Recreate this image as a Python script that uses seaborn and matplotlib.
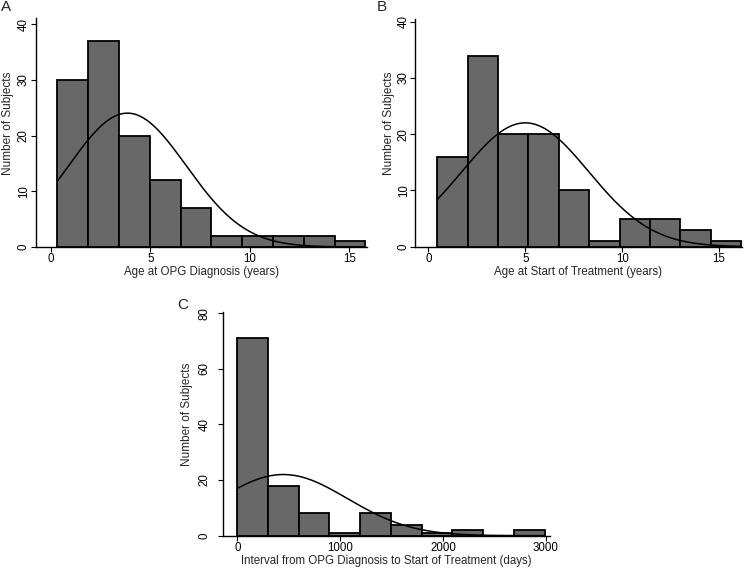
import numpy as np
import pandas as pd
import matplotlib
matplotlib.use("Agg")
import matplotlib.pyplot as plt
import seaborn as sns

# ---- data ----
# Panel A: Age at OPG Diagnosis (years)
a_start, a_width = 0.32, 1.55
a_counts = [30, 37, 20, 12, 7, 2, 2, 2, 2, 1]
a_mean, a_sd = 3.85, 2.96

# Panel B: Age at Start of Treatment (years)
b_start, b_width = 0.45, 1.57
b_counts = [16, 34, 20, 20, 10, 1, 5, 5, 3, 1]
b_mean, b_sd = 5.0, 3.27

# Panel C: Interval from OPG Diagnosis to Start of Treatment (days)
c_start, c_width = 0.0, 299.0
c_counts = [71, 18, 8, 1, 8, 4, 1, 2, 0, 2]
c_mean, c_sd = 448.0, 624.0

a_xticks = [0, 5, 10, 15]
a_yticks = [0, 10, 20, 30, 40]
b_xticks = [0, 5, 10, 15]
b_yticks = [0, 10, 20, 30, 40]
c_xticks = [0, 1000, 2000, 3000]
c_yticks = [0, 20, 40, 60, 80]

sns.set_style("white")
plt.rcParams['font.family'] = ['Liberation Sans', 'DejaVu Sans']

fig = plt.figure(figsize=(7.47, 5.70), dpi=100)

def panel(rect, start, width, counts, mean, sd, xlim, ylim, xticks, yticks, xlabel,
          letter, letter_xy, ypad, ylabel_x):
    ax = fig.add_axes(rect)
    counts = [float(c) for c in counts]
    n = len(counts)
    centers = [start + width * (i + 0.5) for i in range(n)]
    df = pd.DataFrame({"x": centers, "w": counts})
    sns.histplot(data=df, x="x", weights="w", binwidth=width,
                 binrange=(start, start + n * width), ax=ax,
                 color="#686868", edgecolor="black", linewidth=1.3, alpha=1.0)
    total = sum(counts)
    xs = np.linspace(start, start + n * width, 300)
    ys = total * width / (sd * np.sqrt(2 * np.pi)) * np.exp(-(xs - mean) ** 2 / (2 * sd ** 2))
    ax.plot(xs, ys, color="black", linewidth=1.1)
    ax.set_xlim(*xlim)
    ax.set_ylim(*ylim)
    ax.set_xticks(xticks)
    ax.set_yticks(yticks)
    ax.set_xlabel(xlabel, fontsize=8.3, labelpad=0.5)
    ax.set_ylabel("Number of Subjects", fontsize=8.5)
    ax.yaxis.set_label_coords(ylabel_x, 0.54)
    for s in ("top", "right"):
        ax.spines[s].set_visible(False)
    for s in ("left", "bottom"):
        ax.spines[s].set_color("black")
        ax.spines[s].set_linewidth(1.0)
    ax.tick_params(axis="both", direction="out", length=3.5, width=0.8, colors="black",
                   labelsize=8.3, pad=1.0, left=True, bottom=True)
    ax.tick_params(axis="y", pad=ypad)
    for lab in ax.get_yticklabels():
        lab.set_rotation(90)
        lab.set_va("center")
    fig.text(letter_xy[0], letter_xy[1], letter, fontsize=11, ha="left", va="top")
    return ax

panel([0.0482, 0.5667, 0.4431, 0.4017], a_start, a_width, a_counts, a_mean, a_sd,
      (-0.75, 15.9), (0, 41.1), a_xticks, a_yticks,
      "Age at OPG Diagnosis (years)", "A", (0.001, 1.0), 1.0, -0.066)
panel([0.5556, 0.5672, 0.4373, 0.3995], b_start, b_width, b_counts, b_mean, b_sd,
      (-0.69, 16.17), (0, 40.5), b_xticks, b_yticks,
      "Age at Start of Treatment (years)", "B", (0.505, 1.0), 0.3, -0.061)
panel([0.2985, 0.0602, 0.4378, 0.3930], c_start, c_width, c_counts, c_mean, c_sd,
      (-139, 3042), (0, 80.5), c_xticks, c_yticks,
      "Interval from OPG Diagnosis to Start of Treatment (days)", "C", (0.237, 0.478), 5.5, -0.092)

fig.savefig("out.png", dpi=100)
